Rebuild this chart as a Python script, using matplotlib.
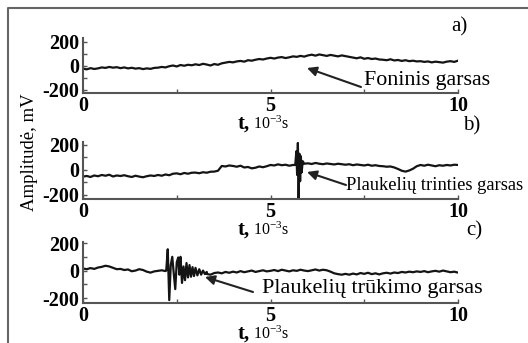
import numpy as np
import matplotlib
matplotlib.use("Agg")
import matplotlib.pyplot as plt
from matplotlib.lines import Line2D

plt.rcParams["font.family"] = ["Liberation Serif", "DejaVu Serif"]
plt.rcParams["mathtext.fontset"] = "custom"
plt.rcParams["mathtext.rm"] = "Liberation Serif"

W, H = 528, 343

# time grid of the base traces, 10^-3 s
t_base = np.linspace(0, 10, 101)

# a) background noise, mV
sig_a = [-22, -28, -18, -25, -20, -12, -16, -8, -14, -10,
         -18, -12, -20, -15, -22, -18, -26, -20, -24, -16,
         -14, -8, -12, -2, 4, -4, 8, 2, 10, 6,
         14, 8, 18, 12, 4, 16, 10, 22, 28, 34,
         30, 38, 42, 36, 48, 44, 52, 58, 54, 62,
         68, 62, 70, 74, 66, 72, 80, 76, 84, 78,
         88, 94, 86, 96, 90, 84, 92, 86, 80, 88,
         82, 76, 70, 64, 72, 60, 66, 58, 62, 54,
         52, 48, 56, 46, 50, 42, 48, 40, 44, 38,
         40, 34, 38, 30, 36, 32, 28, 36, 40, 34,
         44]

# b) hair friction sound, mV
sig_b = [-53, -48, -56, -44, -50, -40, -46, -38, -52, -44,
         -48, -42, -50, -56, -46, -53, -58, -50, -44, -48,
         -40, -46, -36, -42, -30, -27, -34, -24, -30, -22,
         -21, -26, -18, -22, -14, -13, -6, 32, 28, 36,
         32, 26, 34, 20, 24, 13, 18, 28, 22, 30,
         40, 36, 45, 38, 42, 34, 40, 44, 60, 50,
         53, 48, 56, 50, 46, 52, 48, 44, 50, 46,
         42, 46, 38, 44, 40, 36, 42, 34, 38, 32,
         30, 26, 28, 20, 8, -6, -13, -4, 10, 30,
         40, 34, 42, 36, 30, 38, 34, 40, 36, 42,
         40]
t_burst_b = [5.66, 5.69, 5.71, 5.73, 5.75, 5.77, 5.79, 5.81, 5.83, 5.86]
burst_b = [40, 150, -40, 216, -240, 130, -90, 110, -20, 70]

# c) hair breaking sound, mV
sig_c = [15, 10, 18, 12, 22, 27, 35, 30, 20, 10,
         12, 4, 8, -5, 0, 10, 4, -8, -15, -6,
         -2, 2, -4, -8, -10, -12, -14, -16, -18, -20,
         -20, -15, -22, -25, -30, -18, -14, -20, -10, -16,
         -8, -14, -4, -12, -6, 0, -10, -4, 2, -6,
         -2, 4, -4, 6, 0, -6, 2, -2, 6, 0,
         -4, 2, 8, 0, 6, 2, -8, -20, -26, -30,
         -24, -30, -22, -28, -18, -24, -16, -26, -20, -28,
         -20, -16, -22, -14, -18, -10, -14, -8, -12, -6,
         -10, -4, -12, -6, -2, -8, 0, -6, -12, -8,
         -15]
t_burst_c = [2.22, 2.26, 2.30, 2.34, 2.38, 2.42, 2.46, 2.50, 2.54, 2.57,
             2.60, 2.64, 2.68, 2.72, 2.76, 2.80, 2.84, 2.88, 2.92, 2.96,
             3.00, 3.05, 3.10, 3.15, 3.20, 3.25, 3.30]
burst_c = [0, 155, -215, 40, 100, -20, -135, 60, 95, -30,
           100, -90, 30, -70, 55, -50, 40, -45, 25, -40,
           20, -35, 10, -30, 0, -25, -10]

labels = ["a)", "b)", "c)"]
notes = ["Foninis garsas", "Plaukelių trinties garsas", "Plaukelių trūkimo garsas"]


def merge(base, tb, vb):
    t = np.asarray(t_base)
    v = np.asarray(base, dtype=float)
    keep = (t < tb[0]) | (t > tb[-1])
    tt = np.concatenate([t[keep], tb])
    vv = np.concatenate([v[keep], vb])
    order = np.argsort(tt)
    return tt[order], vv[order]


series = [
    (t_base, np.asarray(sig_a, dtype=float)),
    merge(sig_b, t_burst_b, burst_b),
    merge(sig_c, t_burst_c, burst_c),
]


def fx(x):
    return x / W


def fy(y):
    return 1 - y / H


fig = plt.figure(figsize=(W / 100, H / 100), dpi=100)

# panel geometry in pixels (top, bottom) and y limits
rows = [(38, 93), (141.7, 199), (241.7, 303)]
ylims = [(-225, 233), (-232, 226), (-236, 210)]
xl, xr = 83, 458

for i, ((t, v), (top, bot), yl) in enumerate(zip(series, rows, ylims)):
    ax = fig.add_axes([fx(xl), fy(bot), (xr - xl) / W, (bot - top) / H])
    ax.plot(t, v, color="#141414", lw=1.6)
    ax.set_xlim(0, 10)
    ax.set_ylim(*yl)
    for s in ["top", "right"]:
        ax.spines[s].set_visible(False)
    for s in ["left", "bottom"]:
        ax.spines[s].set_color("#555555")
        ax.spines[s].set_linewidth(1.5)
    ax.set_xticks([0, 5, 10])
    ax.set_xticks([2.5, 7.5], minor=True)
    ax.set_yticks([-200, 0, 200])
    ax.set_yticklabels(["-200", "0", "200"])
    ax.set_yticks([-100, 100], minor=True)
    ax.tick_params(which="both", direction="in", length=3, width=1, color="#555555")
    ax.tick_params(axis="y", pad=3)
    ax.tick_params(axis="x", pad=2)
    for lab in ax.get_xticklabels() + ax.get_yticklabels():
        lab.set_fontsize(14.5)
        lab.set_fontweight("bold")
    ax.patch.set_alpha(0)

# x labels "t, 10^-3 s"
for ylab in [124, 230, 334]:
    fig.text(fx(250), fy(ylab), "t,", ha="right", va="center", fontsize=15, fontweight="bold")
    fig.text(fx(253), fy(ylab), r"$\mathregular{10^{-3}}$s", ha="left", va="center", fontsize=11.5)

# panel letters
for lab, (lx, ly) in zip(labels, [(459, 27), (472, 126), (474, 231)]):
    fig.text(fx(lx), fy(ly), lab, ha="center", va="center", fontsize=15)

# annotations: text position and arrow tail/tip in pixels
note_pos = [(364, 81, 15.8), (346, 185, 13.3), (262, 289, 16)]
arrows = [((361, 87), (307, 68)), ((346, 185), (307, 172)), ((253, 292), (205, 277))]
for txt, (nx, ny, fs), (tail, tip) in zip(notes, note_pos, arrows):
    fig.text(fx(nx), fy(ny), txt, ha="left", va="center", fontsize=fs)
    fig.add_artist(plt.Annotation("", xy=(fx(tip[0]), fy(tip[1])), xycoords="figure fraction",
                                  xytext=(fx(tail[0]), fy(tail[1])), textcoords="figure fraction",
                                  arrowprops=dict(arrowstyle="-|>", color="#222222", lw=1.5,
                                                  mutation_scale=14, shrinkA=0, shrinkB=0)))

fig.text(fx(30), fy(152), "Amplitudė, mV", rotation=90, ha="center", va="center", fontsize=13.5)

# frame lines (top and left)
fig.add_artist(Line2D([fx(8), fx(8), fx(W)], [fy(H), fy(8), fy(8)],
                      transform=fig.transFigure, color="#666666", lw=1.5))

fig.savefig("out.png", dpi=100)
